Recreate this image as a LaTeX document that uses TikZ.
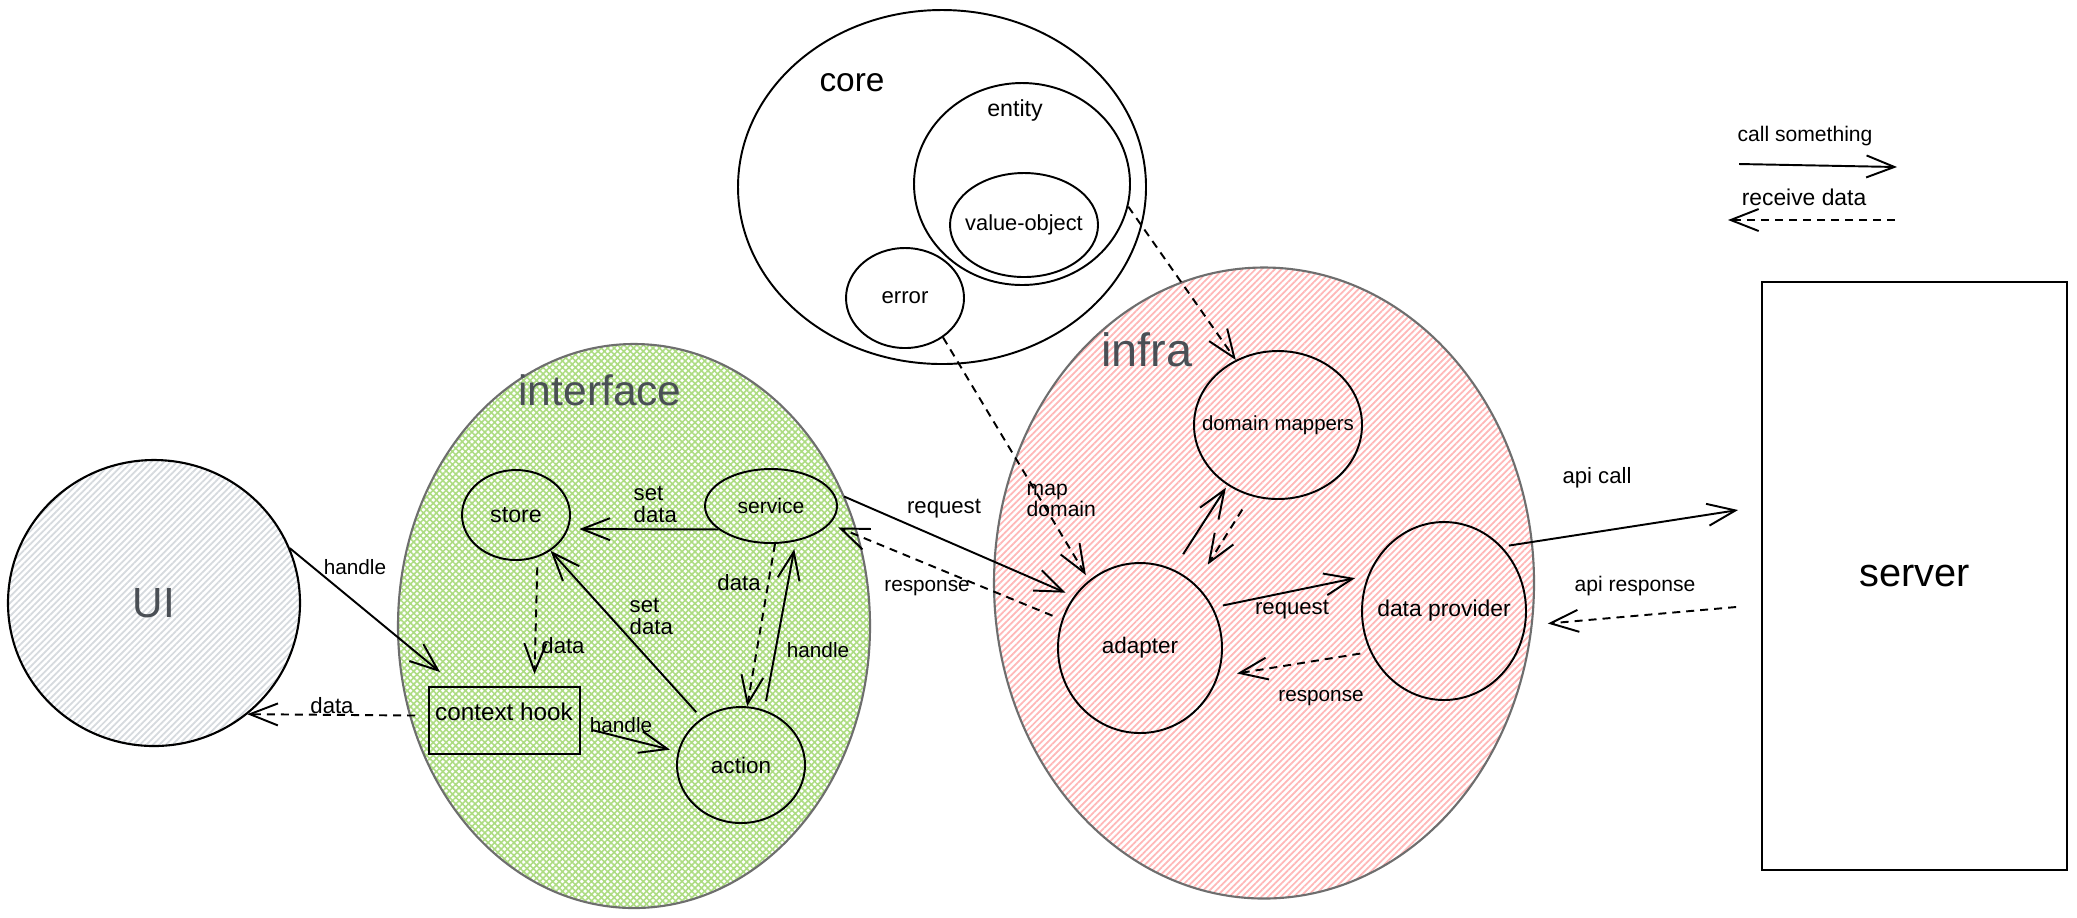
\documentclass[tikz,border=0pt]{standalone}
\usepackage{fontspec}
\setmainfont{Liberation Sans}
\usetikzlibrary{arrows.meta,shapes.geometric,patterns.meta,calc}

\definecolor{inkgray}{HTML}{4A4F55}
\definecolor{rimgray}{HTML}{6E6E6E}
\definecolor{uihatch}{HTML}{D6DADE}
\definecolor{greenhatch}{HTML}{ADDC82}
\definecolor{pinkhatch}{HTML}{FFB8B8}

\tikzset{
  pxunits/.style={x=0.01cm,y=-0.01cm},
  wh/.style 2 args={minimum width=#1*0.01cm, minimum height=#2*0.01cm},
  fs/.style={font=\fontsize{#1}{#1}\selectfont},
  blob/.style={ellipse, inner sep=0pt, line width=0.55pt, draw=black},
  group/.style={ellipse, inner sep=0pt, line width=0.6pt, draw=rimgray},
  boxed/.style={rectangle, inner sep=0pt, line width=0.55pt, draw=black},
  lbl/.style={inner sep=0pt, fs=6.3, align=left},
  title/.style={inner sep=0pt, text=inkgray},
  flow/.style={line width=0.55pt, -{Straight Barb[length=0.28cm,width=0.22cm]}},
  back/.style={flow, dash pattern=on 0.08cm off 0.06cm},
}

\begin{document}
\begin{tikzpicture}[pxunits]
\useasboundingbox[fill=white] (0,0) rectangle (2077,917);

% ---- outer layers ----
\node[group, draw=black, wh={292}{286},
      pattern={Lines[angle=45,distance=1.3pt,line width=0.5pt]}, pattern color=uihatch,
      label={[title, fs=12]center:UI}] (ui) at (154,603) {};

\node[group, wh={472}{564},
      pattern={Hatch[angle=45,distance=1.3pt,line width=0.45pt]}, pattern color=greenhatch] (iface) at (634,626) {};
\node[title, fs=12.1] (ifacetitle) at (600,390) {interface};

\node[group, wh={540}{631},
      pattern={Lines[angle=45,distance=1.3pt,line width=0.5pt]}, pattern color=pinkhatch] (infra) at (1264,583) {};
\node[title, fs=13.3] (infratitle) at (1147,350) {infra};

\node[blob, wh={408}{354}] (core) at (942,187) {};
\node[inner sep=0pt, fs=9.5] (coretitle) at (852,83) {core};

% ---- core ----
\node[blob, wh={216}{202}] (entity) at (1022,184) {};
\node[lbl, fs=6.6] (entitytitle) at (1015,110) {entity};
\node[blob, wh={148}{104}, label={[lbl, fs=6.2]center:value-object}] (vo) at (1024,225) {};
\node[blob, wh={118}{100}, label={[lbl, fs=6.3]center:error}] (error) at (905,298) {};

% ---- interface ----
\node[blob, wh={108}{90}, label={[lbl, fs=6.6]center:store}] (store) at (516,515) {};
\node[blob, wh={132}{74}, label={[lbl, fs=6.0]center:service}] (service) at (771,506) {};
\node[blob, wh={128}{116}, label={[lbl, fs=6.4]center:action}] (action) at (741,765) {};
\node[boxed, wh={151}{67}] (ctx) at (504.5,720.5) {};
\node[lbl, fs=6.9] (ctxtitle) at (504,712) {context hook};

% ---- infra ----
\node[blob, wh={168}{148}, label={[lbl, fs=5.8]center:domain mappers}] (dm) at (1278,425) {};
\node[blob, wh={164}{170}, label={[lbl, fs=6.4]center:adapter}] (adapter) at (1140,648) {};
\node[blob, wh={164}{178}, label={[lbl, fs=6.5]center:data provider}] (dp) at (1444,611) {};

% ---- server ----
\node[boxed, wh={305}{588}, fs=11.3] (server) at (1914.5,576) {server};

% ---- connectors: UI <-> interface ----
\draw[flow] (ui.22) -- ($(ctx.north west)+(12,-14)$);
\node[lbl, fs=5.9] (l1) at (355,567) {handle};
\draw[back] ($(ctx.west)+(-13,-5)$) -- (ui.-50);
\node[lbl] (l2) at (332,706) {data};

% ---- inside interface ----
\draw[flow, shorten >=0.08cm] ($(ctx.east)+(11,9.5)$) -- (action.168);
\node[lbl, fs=5.9] (l3) at (621,725) {handle};
\draw[back, shorten <=0.1cm] (store.-63) -- ($(ctx.north)+(30,-12)$);
\node[lbl] (l4) at (563,646) {data};
\draw[flow, shorten >=0.11cm] (service.204) -- (store.-15);
\node[lbl, anchor=west] (l5) at (633,504) {set\\data};
\draw[flow, shorten <=0.08cm] (action.130) -- (store.-46);
\node[lbl, anchor=west] (l6) at (629,616) {set\\data};
\draw[back] (service.-84) -- (action.84);
\node[lbl] (l7) at (739,583) {data};
\draw[flow, shorten <=0.09cm, shorten >=0.08cm] (action.67) -- (service.-55);
\node[lbl, fs=5.9] (l8) at (818,650) {handle};

% ---- interface <-> infra ----
\draw[flow, shorten <=0.12cm, shorten >=0.09cm] (service.13) -- (adapter.142);
\node[lbl] (l9) at (944,509) {request};
\draw[back, shorten <=0.1cm, shorten >=0.09cm] (adapter.160) -- (service.-17);
\node[lbl, fs=5.9] (l10) at (927,588) {response};

% ---- core -> infra ----
\draw[back, shorten >=0.06cm] (error.-46) -- (adapter.127);
\node[lbl, fs=6.0, anchor=west] (l11) at (1026,500) {map\\domain};
\draw[back] (entity.-12) -- (dm.123);

% ---- inside infra ----
\draw[flow, shorten <=0.18cm, shorten >=0.03cm] (adapter.67) -- (dm.-130);
\draw[back, shorten <=0.16cm, shorten >=0.23cm] (dm.-111) -- (adapter.49);
\draw[flow, shorten <=0.1cm, shorten >=0.13cm] (adapter.29) -- (dp.155);
\node[lbl] (l12) at (1292,610) {request};
\draw[back, shorten <=0.1cm, shorten >=0.19cm] (dp.-151) -- (adapter.-20);
\node[lbl, fs=5.9] (l13) at (1321,698) {response};

% ---- infra <-> server ----
\draw[flow, shorten <=0.07cm] (dp.48) -- ($(server.west)+(-23,-66)$);
\node[lbl] (l14) at (1597,478) {api call};
\draw[back, shorten >=0.22cm] ($(server.west)+(-25,31)$) -- (dp.-10);
\node[lbl, fs=6.0] (l15) at (1635,586) {api response};

% ---- legend ----
\coordinate (callA) at (1739,164);
\coordinate (callB) at (1897,167);
\draw[flow] (callA) -- (callB);
\node[lbl, fs=6.0] (legcall) at (1805,136) {call something};
\coordinate (recvA) at (1895,220);
\coordinate (recvB) at (1728,220);
\draw[back] (recvA) -- (recvB);
\node[lbl, fs=6.5] (legrecv) at (1804,197) {receive data};

\end{tikzpicture}
\end{document}
